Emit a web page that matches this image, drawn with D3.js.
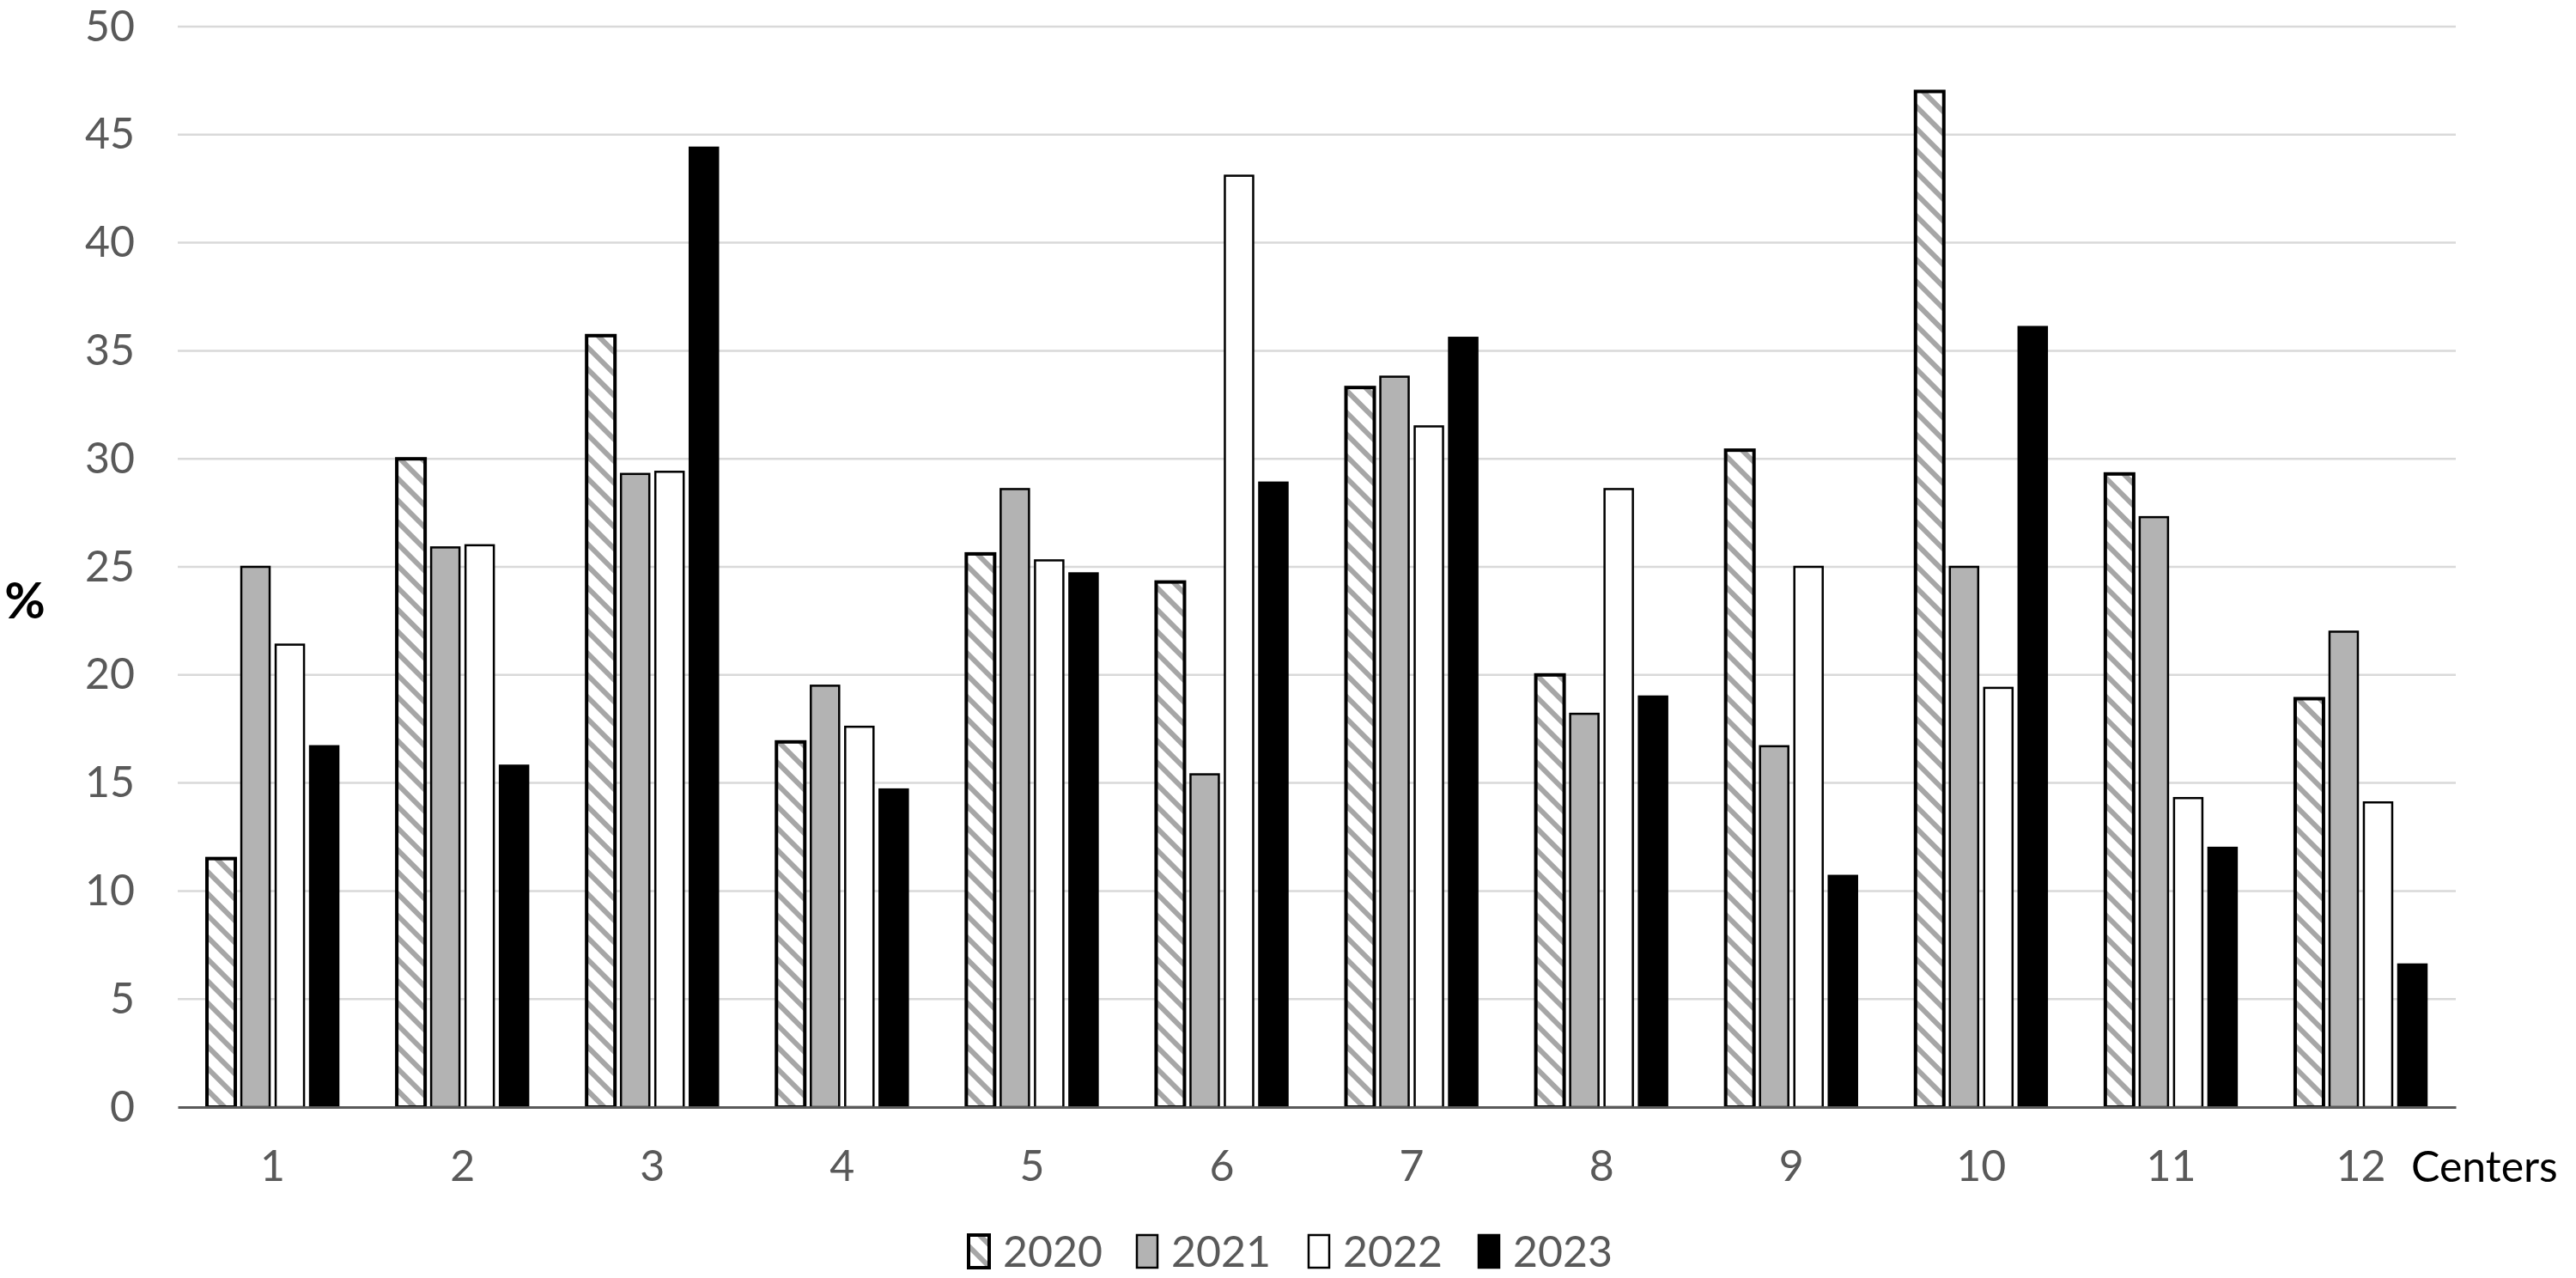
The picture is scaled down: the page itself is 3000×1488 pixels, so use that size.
<!DOCTYPE html>
<html><head><meta charset="utf-8">
<script src="https://cdn.jsdelivr.net/npm/d3@7"></script>
<style>body{margin:0;background:#fff}svg{display:block}text{font-family:Lato,"Open Sans",sans-serif}</style>
</head><body>
<svg id="c" width="3000" height="1488"></svg>
<script>
const centers = ["1","2","3","4","5","6","7","8","9","10","11","12"];
const years = ["2020","2021","2022","2023"];
const v2020 = [11.5,30.0,35.7,16.9,25.6,24.3,33.3,20.0,30.4,47.0,29.3,18.9];
const v2021 = [25.0,25.9,29.3,19.5,28.6,15.4,33.8,18.2,16.7,25.0,27.3,22.0];
const v2022 = [21.4,26.0,29.4,17.6,25.3,43.1,31.5,28.6,25.0,19.4,14.3,14.1];
const v2023 = [16.7,15.8,44.4,14.7,24.7,28.9,35.6,19.0,10.7,36.1,12.0,6.6];
const yTicks = [0,5,10,15,20,25,30,35,40,45,50];
const series = [v2020, v2021, v2022, v2023];

const svg = d3.select("#c");
const L = 207, R = 2860, T = 31, B = 1289;
const FS = 50;

const defs = svg.append("defs");
const pat = defs.append("pattern").attr("id","hatch").attr("patternUnits","userSpaceOnUse")
  .attr("width",18).attr("height",18).attr("patternTransform","rotate(45)");
pat.append("rect").attr("width",18).attr("height",18).attr("fill","#fff");
pat.append("line").attr("x1",0).attr("y1",9).attr("x2",18).attr("y2",9).attr("stroke","#a6a6a6").attr("stroke-width",6);

const fills = ["url(#hatch)","#b3b3b3","#ffffff","#000000"];
const strokeW = [4,2.5,2.5,2.5];

const x0 = d3.scaleBand().domain(centers).range([L,R]).padding(0);
const x1 = d3.scaleBand().domain(years).range([0,x0.bandwidth()]).paddingInner(0.175).paddingOuter(0.85);
const y = d3.scaleLinear().domain([0,50]).range([B,T]);

// gridlines
svg.append("g").selectAll("line").data(yTicks.filter(d=>d>0)).join("line")
  .attr("x1",L).attr("x2",R).attr("y1",d=>y(d)).attr("y2",d=>y(d))
  .attr("stroke","#d9d9d9").attr("stroke-width",2.5);

// y axis labels
const yAxis = d3.axisLeft(y).tickValues(yTicks).tickSize(0).tickPadding(50);
const ya = svg.append("g").attr("transform",`translate(${L},0)`).call(yAxis);
ya.select(".domain").remove();
ya.selectAll("text").attr("font-family","Lato, 'Open Sans', sans-serif").attr("font-size",FS).attr("fill","#595959");

// bars
const rows = centers.map((c,i)=>({c, vals: series.map((s,j)=>({year:years[j], j, v:s[i]}))}));
const g = svg.append("g").selectAll("g").data(rows).join("g").attr("transform",d=>`translate(${x0(d.c)},0)`);
g.selectAll("rect").data(d=>d.vals).join("rect")
  .attr("x",d=>x1(d.year)).attr("width",x1.bandwidth())
  .attr("y",d=>y(d.v)).attr("height",d=>y(0)-y(d.v))
  .attr("fill",d=>fills[d.j]).attr("stroke","#000").attr("stroke-width",d=>strokeW[d.j]);

// x axis
const xAxis = d3.axisBottom(x0).tickSize(0).tickPadding(50);
const xa = svg.append("g").attr("transform",`translate(0,${B})`).call(xAxis);
xa.select(".domain").attr("stroke","#595959").attr("stroke-width",3);
xa.selectAll("text").attr("font-family","Lato, 'Open Sans', sans-serif").attr("font-size",FS).attr("fill","#595959");

svg.append("text").attr("x",2808).attr("y",1376).attr("font-size",FS).attr("fill","#000").text("Centers");
svg.append("text").attr("x",29).attr("y",720).attr("text-anchor","middle").attr("font-size",58).attr("font-weight","bold").attr("fill","#000").text("%");

// legend
const legX = [1128,1324,1524,1722];
const lg = svg.append("g").selectAll("g").data(years).join("g").attr("transform",(d,i)=>`translate(${legX[i]},1438)`);
lg.append("rect").attr("width",24).attr("height",38).attr("fill",(d,i)=>fills[i]).attr("stroke","#000").attr("stroke-width",(d,i)=>i===0?4:2.5);
lg.append("text").attr("x",40).attr("y",37).attr("font-size",FS).attr("fill","#595959").text(d=>d);
</script>
</body></html>
